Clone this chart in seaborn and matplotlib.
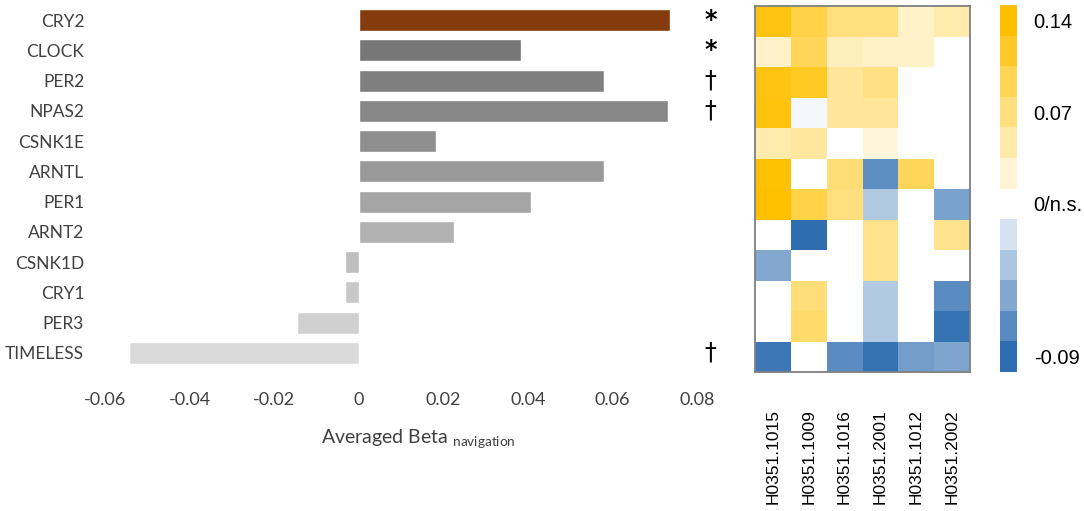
import numpy as np
import pandas as pd
import matplotlib
matplotlib.use("Agg")
import matplotlib.pyplot as plt
import seaborn as sns
from matplotlib.colors import LinearSegmentedColormap

# ---------------- data ----------------
genes = ["CRY2", "CLOCK", "PER2", "NPAS2", "CSNK1E", "ARNTL",
         "PER1", "ARNT2", "CSNK1D", "CRY1", "PER3", "TIMELESS"]
avg_beta = [0.0735, 0.0384, 0.0581, 0.0731, 0.0183, 0.0580,
            0.0408, 0.0225, -0.0033, -0.0033, -0.0145, -0.0543]
significance = ["*", "*", "\u2020", "\u2020", "", "", "", "", "", "", "", "\u2020"]

donors = ["H0351.1015", "H0351.1009", "H0351.1016",
          "H0351.2001", "H0351.1012", "H0351.2002"]
beta_1015 = [0.130, 0.030, 0.130, 0.132, 0.045, 0.138, 0.140, 0.0, -0.054, 0.0, 0.0, -0.083]
beta_1009 = [0.100, 0.090, 0.120, -0.004, 0.052, 0.0, 0.100, -0.090, 0.0, 0.073, 0.080, 0.0]
beta_1016 = [0.070, 0.035, 0.055, 0.055, 0.0, 0.075, 0.070, 0.0, 0.0, 0.0, 0.0, -0.071]
beta_2001 = [0.070, 0.030, 0.068, 0.057, 0.020, -0.069, -0.033, 0.063, 0.063, -0.033, -0.033, -0.086]
beta_1012 = [0.030, 0.030, 0.0, 0.0, 0.0, 0.090, 0.0, 0.0, 0.0, 0.0, 0.0, -0.060]
beta_2002 = [0.045, 0.0, 0.0, 0.0, 0.0, 0.0, -0.057, 0.063, 0.0, -0.071, -0.086, -0.055]

cbar_levels = [0.14, 0.117, 0.093, 0.07, 0.047, 0.023, 0.0,
               -0.018, -0.036, -0.054, -0.072, -0.09]
cbar_labels = {0: "0.14", 3: "0.07", 6: "0/n.s.", 11: "-0.09"}

bar_colors = ["#843C0C", "#777777", "#7F7F7F", "#878787", "#8F8F8F", "#999999",
              "#A5A5A5", "#B2B2B2", "#BFBFBF", "#C8C8C8", "#D0D0D0", "#DADADA"]

# ---------------- style ----------------
sns.set_theme(style="white")
plt.rcParams["font.family"] = ["Lato", "DejaVu Sans"]

W, H = 1084, 511
fig = plt.figure(figsize=(W / 100, H / 100), dpi=100)

def rect(x0, y0, x1, y1):
    return [x0 / W, 1 - y1 / H, (x1 - x0) / W, (y1 - y0) / H]

# ---------------- bar chart ----------------
ax = fig.add_axes(rect(105, 5, 697, 368))
bars_df = pd.DataFrame({"gene": genes, "beta": avg_beta})
sns.barplot(data=bars_df, x="beta", y="gene", hue="gene", order=genes,
            hue_order=genes, palette=bar_colors, legend=False, orient="h",
            width=0.72, saturation=1, ax=ax)
ax.set_xlim(-0.06, 0.08)
ax.set_xticks([-0.06, -0.04, -0.02, 0, 0.02, 0.04, 0.06, 0.08])
ax.set_xticklabels(["-0.06", "-0.04", "-0.02", "0", "0.02", "0.04", "0.06", "0.08"])
for s in ax.spines.values():
    s.set_visible(False)
ax.tick_params(axis="y", length=0, pad=15, labelsize=12.5, labelcolor="#404040")
ax.tick_params(axis="x", length=0, pad=17, labelsize=13, labelcolor="#404040")
ax.set_ylabel("")
ax.set_xlabel(r"Averaged Beta $_{\mathregular{navigation}}$", fontsize=14,
              color="#404040")
ax.xaxis.set_label_coords(0.53, -0.165)
for i, mark in enumerate(significance):
    if mark:
        ax.text(0.0832, i, mark, ha="center", va="center", fontsize=17,
                family=["DejaVu Sans"],
                fontweight="bold" if mark == "*" else "normal",
                color="black", clip_on=False)

# ---------------- heatmap ----------------
cmap = LinearSegmentedColormap.from_list(
    "by", [(0.0, "#2E6DB0"), (0.09 / 0.23, "#FFFFFF"), (1.0, "#FFC000")])
hm = pd.DataFrame({donors[0]: beta_1015, donors[1]: beta_1009, donors[2]: beta_1016,
                   donors[3]: beta_2001, donors[4]: beta_1012, donors[5]: beta_2002},
                  index=genes)
hax = fig.add_axes(rect(755, 6, 970, 372))
sns.heatmap(hm, cmap=cmap, vmin=-0.09, vmax=0.14, cbar=False, ax=hax,
            xticklabels=donors, yticklabels=False)
for s in hax.spines.values():
    s.set_visible(True)
    s.set_color("#7F7F7F")
    s.set_linewidth(1.3)
hax.tick_params(axis="x", length=0, pad=27, labelsize=12.5)
for t in hax.get_xticklabels():
    t.set_rotation(90)
    t.set_family(["Liberation Sans", "DejaVu Sans"])
    t.set_va("top")
    t.set_color("black")
hax.set_xlabel("")
hax.set_ylabel("")

# ---------------- colour scale ----------------
cax = fig.add_axes(rect(1000, 5, 1017, 372))
cb = pd.DataFrame({"scale": cbar_levels})
sns.heatmap(cb, cmap=cmap, vmin=-0.09, vmax=0.14, cbar=False, ax=cax,
            xticklabels=False, yticklabels=False)
cax.set_yticks([k + 0.5 for k in cbar_labels])
cax.set_yticklabels(list(cbar_labels.values()))
cax.yaxis.tick_right()
cax.tick_params(axis="y", length=0, pad=12, labelsize=14.5, labelright=True,
                labelleft=False)
for t in cax.get_yticklabels():
    t.set_family(["Liberation Sans", "DejaVu Sans"])
    t.set_rotation(0)
    t.set_color("black")
cax.set_xlabel("")
cax.set_ylabel("")

fig.savefig("out.png", dpi=100)
